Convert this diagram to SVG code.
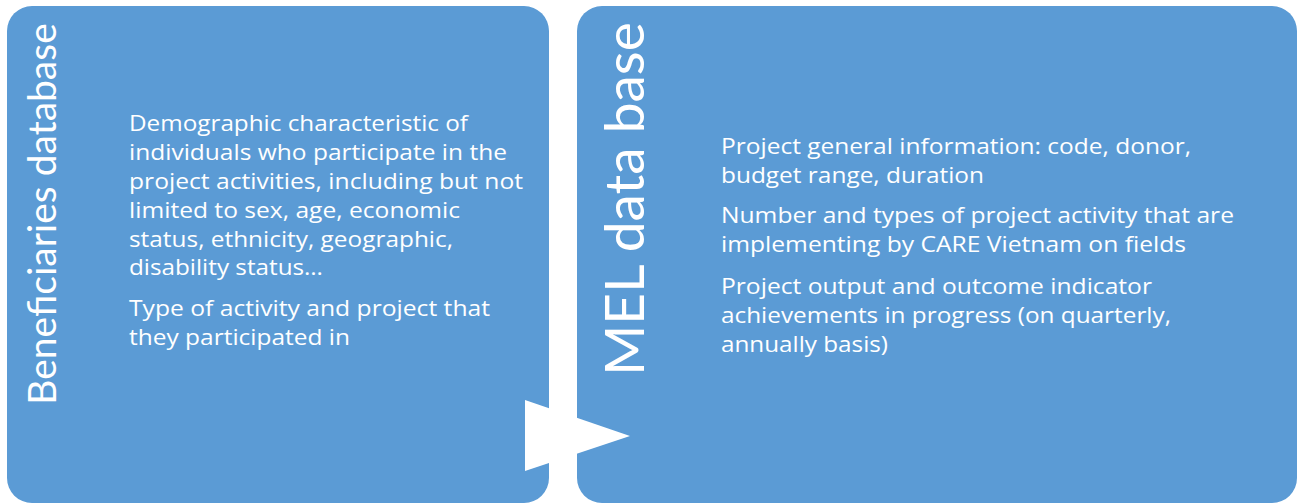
<svg xmlns="http://www.w3.org/2000/svg" width="1298" height="504" viewBox="0 0 1298 504">
<style>
.box{fill:#5B9BD5;}
.title{font-family:Lato,"Open Sans","Liberation Sans",sans-serif;fill:#FFFFFF;text-anchor:middle;}
.body{font-family:"Open Sans",Lato,"Liberation Sans",sans-serif;font-size:21px;fill:#FFFFFF;}
.arrow{fill:#FFFFFF;}
</style>
<rect x="0" y="0" width="1298" height="504" fill="#FFFFFF"/>
<g id="node-beneficiaries">
<rect class="box" x="7" y="6" width="542" height="497" rx="25" ry="25"/>
<text class="title" font-size="39" transform="translate(56,214) rotate(-90)" x="0" y="0">Beneficiaries database</text>
<text class="body">
<tspan x="129" y="131" textLength="339" lengthAdjust="spacingAndGlyphs">Demographic characteristic of</tspan>
<tspan x="129" y="160" textLength="378" lengthAdjust="spacingAndGlyphs">individuals who participate in the</tspan>
<tspan x="129" y="189" textLength="394" lengthAdjust="spacingAndGlyphs">project activities, including but not</tspan>
<tspan x="129" y="218" textLength="331" lengthAdjust="spacingAndGlyphs">limited to sex, age, economic</tspan>
<tspan x="129" y="247" textLength="324" lengthAdjust="spacingAndGlyphs">status, ethnicity, geographic,</tspan>
<tspan x="129" y="275" textLength="194" lengthAdjust="spacingAndGlyphs">disability status…</tspan>
<tspan x="129" y="316" textLength="361" lengthAdjust="spacingAndGlyphs">Type of activity and project that</tspan>
<tspan x="129" y="345" textLength="221" lengthAdjust="spacingAndGlyphs">they participated in</tspan>
</text>
</g>
<g id="node-mel">
<rect class="box" x="577" y="6" width="720" height="497" rx="25" ry="25"/>
<text class="title" font-size="55" transform="translate(644,199) rotate(-90)" x="0" y="0">MEL data base</text>
<text class="body">
<tspan x="721" y="154" textLength="470" lengthAdjust="spacingAndGlyphs">Project general information: code, donor,</tspan>
<tspan x="721" y="183" textLength="263" lengthAdjust="spacingAndGlyphs">budget range, duration</tspan>
<tspan x="721" y="223" textLength="513" lengthAdjust="spacingAndGlyphs">Number and types of project activity that are</tspan>
<tspan x="721" y="252" textLength="465" lengthAdjust="spacingAndGlyphs">implementing by CARE Vietnam on fields</tspan>
<tspan x="721" y="294" textLength="431" lengthAdjust="spacingAndGlyphs">Project output and outcome indicator</tspan>
<tspan x="721" y="323" textLength="450" lengthAdjust="spacingAndGlyphs">achievements in progress (on quarterly,</tspan>
<tspan x="721" y="352" textLength="167" lengthAdjust="spacingAndGlyphs">annually basis)</tspan>
</text>
</g>
<g id="connectors">
<polygon class="arrow" points="525,400 525,471 630,436"/>
</g>
</svg>
